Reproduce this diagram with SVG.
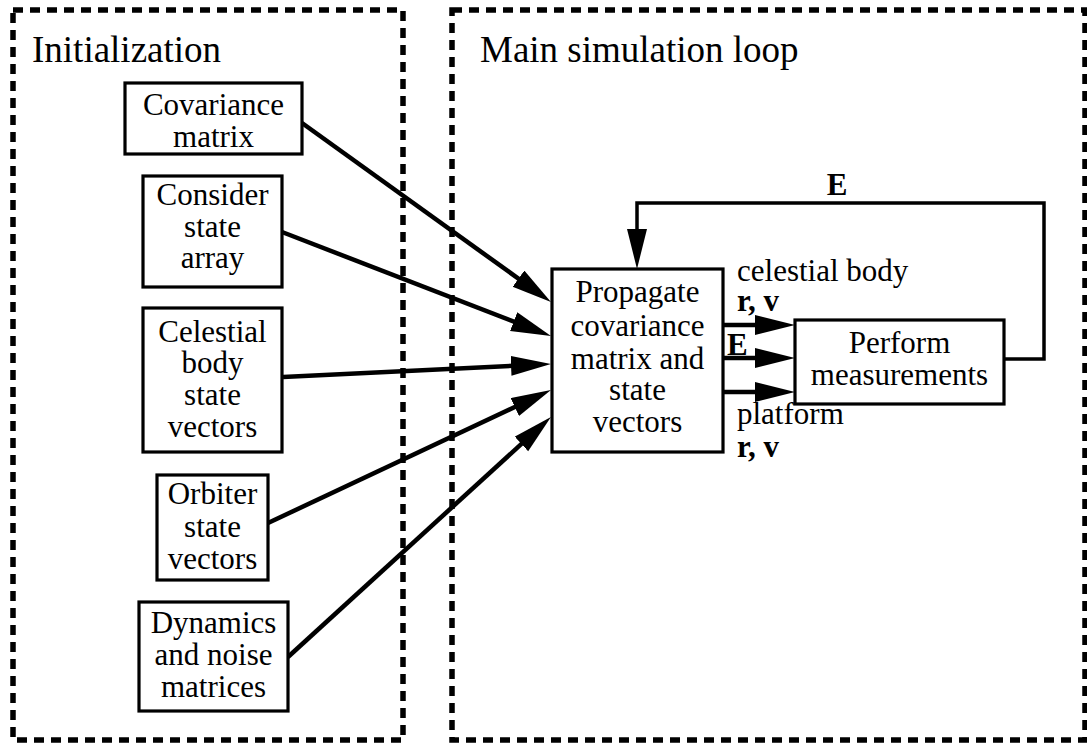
<svg xmlns="http://www.w3.org/2000/svg" width="1087" height="746" viewBox="0 0 1087 746">
<style>
.frame{fill:none;stroke:#000;stroke-width:5.5;stroke-dasharray:10 7}
.box{fill:#fff;stroke:#000;stroke-width:3.2}
.t{font-family:"Liberation Serif","Times New Roman",serif;font-size:31px;fill:#000}
.c{text-anchor:middle}
.title{font-family:"Liberation Serif","Times New Roman",serif;font-size:37px;fill:#000}
.b{font-weight:bold}
.ln{fill:none;stroke:#000;stroke-width:4.5}
.fb{fill:none;stroke:#000;stroke-width:3.5}
</style>
<defs>
<marker id="ah" markerUnits="userSpaceOnUse" markerWidth="42" markerHeight="22" refX="10" refY="10" orient="auto" viewBox="0 0 42 22">
<path d="M0,0 L40,10 L0,20 z" fill="#000"/>
</marker>
</defs>

<g id="frame-init">
<rect class="frame" x="13" y="10" width="390" height="730"/>
<text class="title" x="32" y="62">Initialization</text>
</g>
<g id="frame-main">
<rect class="frame" x="452" y="10" width="633" height="730"/>
<text class="title" x="480" y="62">Main simulation loop</text>
</g>

<g id="connectors">
<line class="ln" x1="302" y1="123" x2="526.6" y2="284.5" marker-end="url(#ah)"/>
<line class="ln" x1="282" y1="232" x2="523" y2="325.2" marker-end="url(#ah)"/>
<line class="ln" x1="283" y1="377" x2="521" y2="365.4" marker-end="url(#ah)"/>
<line class="ln" x1="268" y1="523" x2="523.8" y2="402.8" marker-end="url(#ah)"/>
<line class="ln" x1="288" y1="657" x2="528.8" y2="437.2" marker-end="url(#ah)"/>
<line class="ln" x1="723" y1="325" x2="765" y2="325" marker-end="url(#ah)"/>
<line class="ln" x1="723" y1="358" x2="765" y2="358" marker-end="url(#ah)"/>
<line class="ln" x1="723" y1="392" x2="765" y2="392" marker-end="url(#ah)"/>
<polyline class="fb" points="1004,359 1044,359 1044,203 637,203 637,239" marker-end="url(#ah)"/>
<text class="t b c" x="837" y="195">E</text>
<text class="t" x="737" y="281">celestial body</text>
<text class="t b" x="737" y="311">r, v</text>
<text class="t b" x="727" y="355">E</text>
<text class="t" x="737" y="424">platform</text>
<text class="t b" x="737" y="457">r, v</text>
</g>

<g id="covariance-matrix">
<rect class="box" x="125" y="83" width="177" height="71"/>
<text class="t c" x="213.5" y="115">Covariance</text>
<text class="t c" x="213.5" y="147">matrix</text>
</g>
<g id="consider-state-array">
<rect class="box" x="143" y="176" width="139" height="111"/>
<text class="t c" x="212.5" y="205">Consider</text>
<text class="t c" x="212.5" y="237">state</text>
<text class="t c" x="212.5" y="268">array</text>
</g>
<g id="celestial-body-state-vectors">
<rect class="box" x="143" y="308" width="139" height="144"/>
<text class="t c" x="212.5" y="342">Celestial</text>
<text class="t c" x="212.5" y="373">body</text>
<text class="t c" x="212.5" y="405">state</text>
<text class="t c" x="212.5" y="437">vectors</text>
</g>
<g id="orbiter-state-vectors">
<rect class="box" x="157" y="475" width="111" height="105"/>
<text class="t c" x="212.5" y="504">Orbiter</text>
<text class="t c" x="212.5" y="537">state</text>
<text class="t c" x="212.5" y="569">vectors</text>
</g>
<g id="dynamics-noise-matrices">
<rect class="box" x="139" y="602" width="149" height="109"/>
<text class="t c" x="213.5" y="633">Dynamics</text>
<text class="t c" x="213.5" y="665">and noise</text>
<text class="t c" x="213.5" y="697">matrices</text>
</g>
<g id="propagate">
<rect class="box" x="552" y="269" width="171" height="183"/>
<text class="t c" x="637.5" y="302">Propagate</text>
<text class="t c" x="637.5" y="336">covariance</text>
<text class="t c" x="637.5" y="369">matrix and</text>
<text class="t c" x="637.5" y="400">state</text>
<text class="t c" x="637.5" y="432">vectors</text>
</g>
<g id="perform-measurements">
<rect class="box" x="795" y="320" width="209" height="84"/>
<text class="t c" x="899.5" y="353">Perform</text>
<text class="t c" x="899.5" y="385">measurements</text>
</g>
</svg>
